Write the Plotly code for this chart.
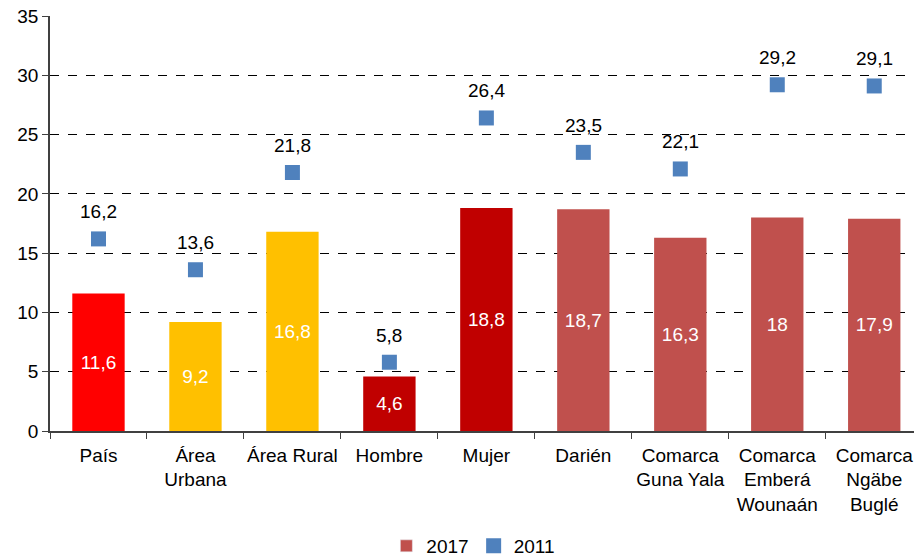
import plotly.graph_objects as go

categories = ["País", "Área<br>Urbana", "Área Rural", "Hombre", "Mujer", "Darién",
              "Comarca<br>Guna Yala", "Comarca<br>Emberá<br>Wounaán", "Comarca<br>Ngäbe<br>Buglé"]
values_2017 = [11.6, 9.2, 16.8, 4.6, 18.8, 18.7, 16.3, 18.0, 17.9]
values_2011 = [16.2, 13.6, 21.8, 5.8, 26.4, 23.5, 22.1, 29.2, 29.1]
bar_colors = ["#FF0000", "#FFC000", "#FFC000", "#C00000", "#C00000",
              "#C0504D", "#C0504D", "#C0504D", "#C0504D"]
y_ticks = [0, 5, 10, 15, 20, 25, 30, 35]


def fmt(v):
    s = f"{v:.1f}".replace(".", ",")
    if s.endswith(",0"):
        s = s[:-2]
    return s


FONT = "Liberation Sans, Arial, sans-serif"
FS = 19

fig = go.Figure()
fig.add_trace(go.Bar(
    x=categories, y=values_2017, name="2017", showlegend=False,
    marker=dict(color=bar_colors, line=dict(width=0)),
    text=[fmt(v) for v in values_2017],
    textposition="inside", insidetextanchor="middle",
    textfont=dict(color="white", size=FS, family=FONT),
    textangle=0,
))
# legend entry for the 2017 series (series colour)
fig.add_trace(go.Bar(
    x=[None], y=[None], name="2017", marker=dict(color="#C0504D"),
    showlegend=True, legendrank=1,
))
fig.add_trace(go.Scatter(
    x=categories, y=values_2011, name="2011", mode="markers",
    marker=dict(symbol="square", size=15, color="#4F81BD"),
    legendrank=2,
))

for c, v in zip(categories, values_2011):
    fig.add_annotation(x=c, y=v, text=fmt(v), showarrow=False, yshift=27,
                       font=dict(size=FS, color="black", family=FONT))

fig.update_layout(
    width=914, height=560,
    margin=dict(l=50, r=0, t=16, b=129, autoexpand=False),
    paper_bgcolor="white", plot_bgcolor="white",
    font=dict(family=FONT, size=FS, color="black"),
    bargap=0.46, barmode="overlay",
    showlegend=True,
    legend=dict(orientation="h", x=0.49, xanchor="center", y=1 - 527 / 560, yanchor="top",
                yref="container", font=dict(size=FS), itemwidth=30,
                traceorder="normal", itemclick=False, tracegroupgap=0),
    xaxis=dict(
        type="category", range=[-0.5, 8.41], automargin=False,
        showline=True, linecolor="#404040", linewidth=1.5,
        ticks="outside", tickson="boundaries", ticklen=6, tickcolor="#404040",
        showgrid=False, tickfont=dict(size=FS), tickangle=0, ticklabelstandoff=6,
    ),
    yaxis=dict(
        range=[0, 35], tickvals=y_ticks, automargin=False,
        showline=True, linecolor="#404040", linewidth=1.5,
        ticks="outside", ticklen=6, tickcolor="#404040",
        showgrid=True, gridcolor="black", griddash="dash", gridwidth=1,
        zeroline=False, tickfont=dict(size=FS),
    ),
)

fig.write_html(
    "out.html",
    config={"displayModeBar": False},
    post_script="document.body.style.margin='0';document.body.style.overflow='hidden';",
)
